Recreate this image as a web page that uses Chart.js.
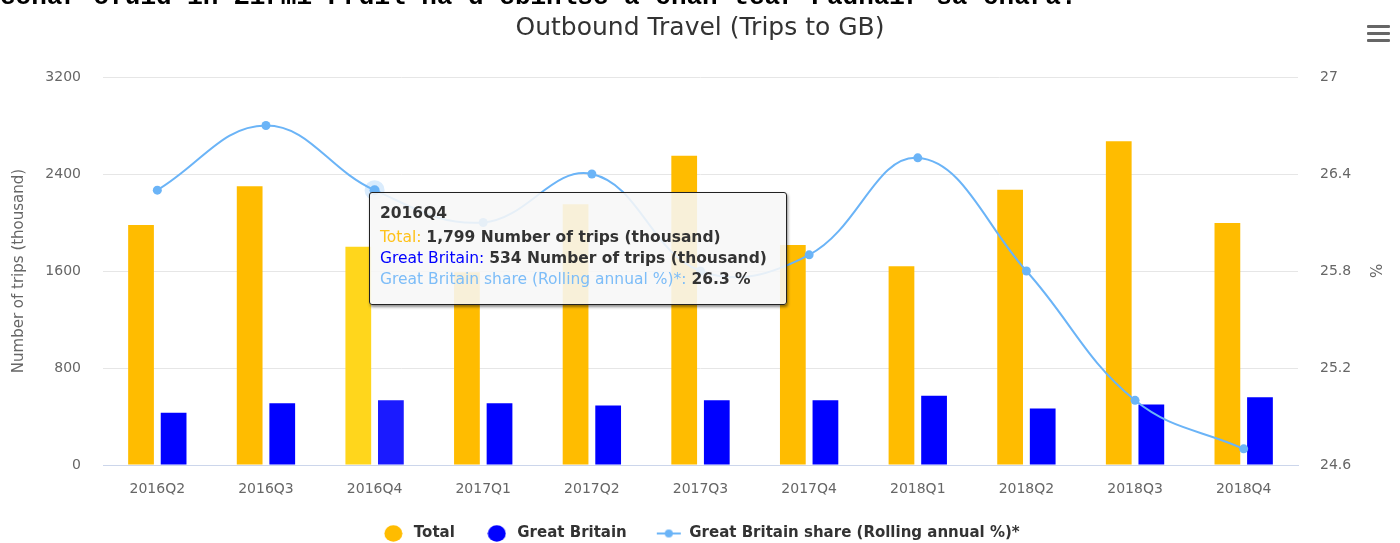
<!DOCTYPE html>
<html>
<head>
<meta charset="utf-8">
<script src="https://cdn.jsdelivr.net/npm/chart.js@4/dist/chart.umd.min.js"></script>
<style>
  html, body { margin: 0; padding: 0; background: #fff; overflow: hidden; }
  #wrap { position: relative; width: 1400px; height: 543px; overflow: hidden; }
  #topline { position: absolute; left: 0; top: -18px; white-space: nowrap;
    font: bold 26px "Liberation Mono", monospace; color: #000; }
  #menu { position: absolute; left: 1367px; top: 25px; width: 23px; }
  #menu div { height: 3px; background: #666; margin-bottom: 4px; border-radius: 1px; }
  #tip { position: absolute; display: none; box-sizing: border-box; width: 418px; height: 113px;
    background: rgba(247,247,247,0.88); border: 1.5px solid #222; border-radius: 3px;
    box-shadow: 1px 2px 3px rgba(0,0,0,0.45); padding: 10px 10px 0 10px;
    font: 15.5px "DejaVu Sans", sans-serif; color: #333; line-height: 21px; white-space: nowrap; }
  #tip .head { font-weight: bold; margin-bottom: 3px; }
  #tip b { font-weight: bold; }
</style>
</head>
<body>
<div id="wrap">
  <canvas id="tripsChart" width="1400" height="551"></canvas>
  <div id="topline">eonar ofuid in Zirmi Prdil ha d'ebinlse a chan tear Padhair sa chara.</div>
  <div id="menu"><div></div><div></div><div></div></div>
  <div id="tip"></div>
</div>
<script>
const categories = ['2016Q2', '2016Q3', '2016Q4', '2017Q1', '2017Q2', '2017Q3',
  '2017Q4', '2018Q1', '2018Q2', '2018Q3', '2018Q4'];
const totalTrips = [1980, 2300, 1799, 1590, 2150, 2550, 1815, 1640, 2270, 2670, 1995];
const gbTrips = [430, 510, 534, 510, 490, 535, 535, 572, 465, 500, 558];
const gbShare = [26.3, 26.7, 26.3, 26.1, 26.4, 25.8, 25.9, 26.5, 25.8, 25.0, 24.7];
const leftTicks = [0, 800, 1600, 2400, 3200];
const rightTicks = [24.6, 25.2, 25.8, 26.4, 27];
const hoverIndex = 2;

const gold = '#FFBC00';
const blue = '#0000FF';
const lightBlue = '#6BB4F7';

// legend symbols drawn on small canvases
function circleSymbol(color) {
  const c = document.createElement('canvas');
  c.width = 19; c.height = 17;
  const g = c.getContext('2d');
  g.fillStyle = color;
  g.beginPath();
  g.ellipse(9.5, 8.5, 9, 8.2, 0, 0, Math.PI * 2);
  g.fill();
  return c;
}
function lineSymbol(color) {
  const c = document.createElement('canvas');
  c.width = 26; c.height = 10;
  const g = c.getContext('2d');
  g.strokeStyle = color;
  g.lineWidth = 2;
  g.beginPath(); g.moveTo(1, 5); g.lineTo(25, 5); g.stroke();
  g.fillStyle = color;
  g.beginPath(); g.arc(13, 5, 4, 0, Math.PI * 2); g.fill();
  return c;
}
const symbols = [circleSymbol(gold), circleSymbol(blue), lineSymbol(lightBlue)];

Chart.Tooltip.positioners.linePoint = function(items) {
  if (!items.length) return false;
  const it = items.find(i => i.datasetIndex === 2) || items[0];
  return { x: it.element.x, y: it.element.y };
};

const tipEl = document.getElementById('tip');
function externalTip(context) {
  const tt = context.tooltip;
  if (tt.opacity === 0) { tipEl.style.display = 'none'; return; }
  const pts = tt.dataPoints.slice().sort((a, b) => a.datasetIndex - b.datasetIndex);
  let html = '<div class="head">' + pts[0].label + '</div>';
  pts.forEach(p => {
    const ds = p.dataset;
    const v = p.raw;
    const val = p.datasetIndex === 2 ? v.toFixed(1) + ' %' : v.toLocaleString('en-US') + ' Number of trips (thousand)';
    html += '<div><span style="color:' + ds.tipColor + '">' + ds.label + ':</span> <b>' + val + '</b></div>';
  });
  tipEl.innerHTML = html;
  tipEl.style.left = Math.round(tt.caretX - 6) + 'px';
  tipEl.style.top = Math.round(tt.caretY + 2) + 'px';
  tipEl.style.display = 'block';
}

const tickFont = { family: 'DejaVu Sans', size: 14 };

const chart = new Chart(document.getElementById('tripsChart'), {
  data: {
    labels: categories,
    datasets: [
      {
        type: 'bar',
        label: 'Total',
        data: totalTrips,
        backgroundColor: gold,
        hoverBackgroundColor: '#FFD61C',
        tipColor: '#FFC21A',
        yAxisID: 'y',
        order: 1,
        categoryPercentage: 0.6,
        barPercentage: 0.79
      },
      {
        type: 'bar',
        label: 'Great Britain',
        data: gbTrips,
        backgroundColor: blue,
        hoverBackgroundColor: '#1A1AFF',
        tipColor: blue,
        yAxisID: 'y',
        order: 1,
        categoryPercentage: 0.6,
        barPercentage: 0.79
      },
      {
        type: 'line',
        label: 'Great Britain share (Rolling annual %)*',
        data: gbShare,
        borderColor: lightBlue,
        backgroundColor: lightBlue,
        tipColor: '#7DBDF8',
        borderWidth: 2,
        tension: 0.4,
        pointRadius: 4.5,
        pointBackgroundColor: lightBlue,
        pointBorderWidth: 0,
        pointHoverRadius: 5,
        pointHoverBackgroundColor: lightBlue,
        pointHoverBorderWidth: 10,
        pointHoverBorderColor: 'rgba(107,180,247,0.25)',
        yAxisID: 'y1',
        order: 0
      }
    ]
  },
  options: {
    responsive: false,
    maintainAspectRatio: false,
    devicePixelRatio: 1,
    animation: false,
    layout: { padding: 0 },
    interaction: { mode: 'index', intersect: false },
    plugins: {
      title: {
        display: true,
        text: 'Outbound Travel (Trips to GB)',
        color: '#333',
        font: { family: 'DejaVu Sans', size: 25, weight: 'normal' },
        padding: { top: 13, bottom: 34 }
      },
      legend: {
        position: 'bottom',
        labels: {
          usePointStyle: true,
          pointStyleWidth: 26,
          boxHeight: 15,
          padding: 29,
          color: '#333',
          font: { family: 'DejaVu Sans', size: 15, weight: 'bold' },
          generateLabels: function(ch) {
            const items = Chart.defaults.plugins.legend.labels.generateLabels(ch);
            items.sort((a, b) => a.datasetIndex - b.datasetIndex);
            items.forEach(it => { it.pointStyle = symbols[it.datasetIndex]; it.lineWidth = 0; });
            return items;
          }
        }
      },
      tooltip: {
        enabled: false,
        position: 'linePoint',
        external: externalTip
      }
    },
    scales: {
      x: {
        grid: { display: false },
        border: { display: true, color: '#ccd6eb', width: 1 },
        ticks: { color: '#666', font: tickFont, padding: 8, maxRotation: 0 },
        afterFit: s => { s.height = 32; }
      },
      y: {
        position: 'left',
        min: 0,
        max: 3200,
        afterBuildTicks: s => { s.ticks = leftTicks.map(v => ({ value: v })); },
        grid: { color: '#e6e6e6', drawTicks: false },
        border: { display: false },
        ticks: { color: '#666', font: tickFont, padding: 22, callback: v => String(v) },
        title: {
          display: true,
          text: 'Number of trips (thousand)',
          color: '#666',
          font: { family: 'DejaVu Sans', size: 15 },
          padding: { top: 10 }
        },
        afterFit: s => { s.width = 103; }
      },
      y1: {
        position: 'right',
        min: 24.6,
        max: 27,
        afterBuildTicks: s => { s.ticks = rightTicks.map(v => ({ value: v })); },
        grid: { display: false, drawTicks: false },
        border: { display: false },
        ticks: { color: '#666', font: tickFont, padding: 22, callback: v => String(v) },
        title: {
          display: true,
          text: '%',
          color: '#666',
          font: { family: 'DejaVu Sans', size: 15 },
          padding: { top: 17 }
        },
        afterFit: s => { s.width = 102; }
      }
    }
  }
});

const active = [0, 1, 2].map(i => ({ datasetIndex: i, index: hoverIndex }));
chart.setActiveElements(active);
const pt = chart.getDatasetMeta(2).data[hoverIndex];
chart.tooltip.setActiveElements(active, { x: pt.x, y: pt.y });
chart.update();
</script>
</body>
</html>
